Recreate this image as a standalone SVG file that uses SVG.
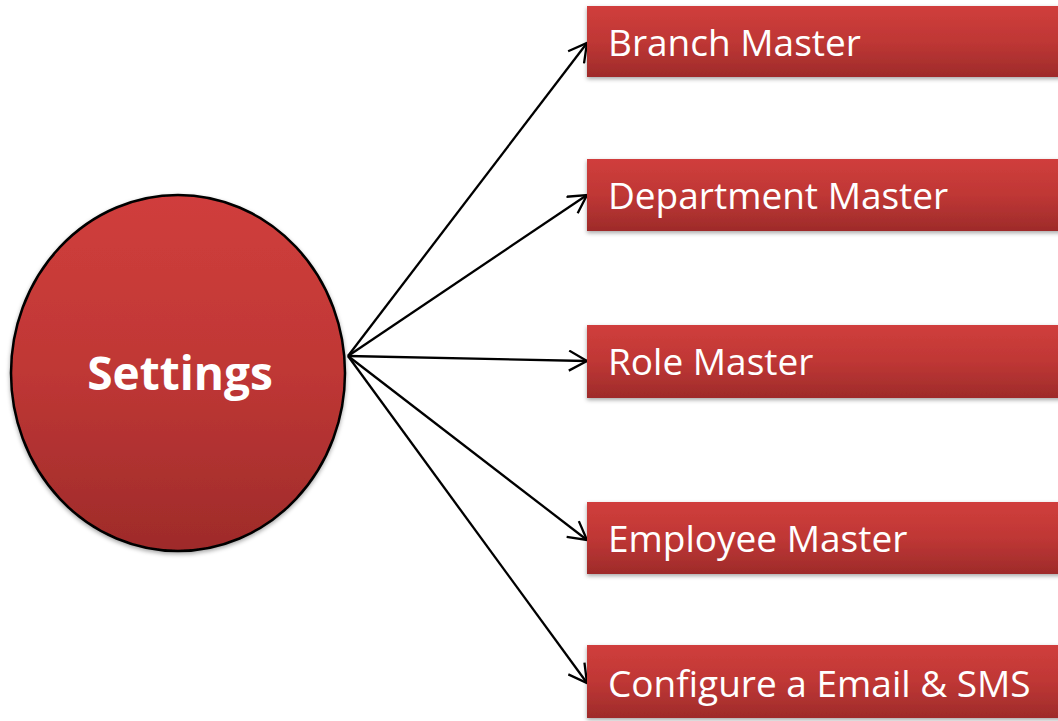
<svg xmlns="http://www.w3.org/2000/svg" width="1058" height="721" viewBox="0 0 1058 721">
<style>
.box{fill:url(#g);filter:url(#sh)}
.lbl{font-family:"Open Sans",sans-serif;font-size:37px;fill:#fff}
.edge{stroke:#000;stroke-width:2.3;fill:none;marker-end:url(#ah)}
</style>
<defs>
<linearGradient id="g" x1="0" y1="0" x2="0" y2="1">
<stop offset="0" stop-color="#d03e3c"/>
<stop offset="0.5" stop-color="#bf3735"/>
<stop offset="1" stop-color="#9e2b2a"/>
</linearGradient>
<filter id="sh" x="-5%" y="-10%" width="110%" height="130%">
<feDropShadow dx="0" dy="2" stdDeviation="2" flood-color="#000" flood-opacity="0.35"/>
</filter>
<marker id="ah" viewBox="0 0 20 22" refX="19" refY="11" markerWidth="20" markerHeight="22" markerUnits="userSpaceOnUse" orient="auto">
<path d="M1,1 L19,11 L1,21" fill="none" stroke="#000" stroke-width="2.3"/>
</marker>
</defs>
<g id="connectors">
<line class="edge" x1="348" y1="356" x2="587" y2="43"/>
<line class="edge" x1="348" y1="356" x2="587" y2="195"/>
<line class="edge" x1="348" y1="356" x2="587" y2="361"/>
<line class="edge" x1="348" y1="356" x2="587" y2="540"/>
<line class="edge" x1="348" y1="356" x2="587" y2="683"/>
</g>
<g id="settings">
<ellipse cx="178" cy="373" rx="167" ry="178" fill="url(#g)" stroke="#000" stroke-width="2.5" filter="url(#sh)"/>
<text x="180" y="390" text-anchor="middle" font-family="Open Sans, sans-serif" font-weight="bold" font-size="46" fill="#fff">Settings</text>
</g>
<g id="branch">
<rect class="box" x="587" y="6" width="480" height="71"/>
<text class="lbl" x="608" y="56">Branch Master</text>
</g>
<g id="department">
<rect class="box" x="587" y="159" width="480" height="72"/>
<text class="lbl" x="608" y="209">Department Master</text>
</g>
<g id="role">
<rect class="box" x="587" y="325" width="480" height="73"/>
<text class="lbl" x="608" y="375">Role Master</text>
</g>
<g id="employee">
<rect class="box" x="587" y="502" width="480" height="72"/>
<text class="lbl" x="608" y="552">Employee Master</text>
</g>
<g id="configure">
<rect class="box" x="587" y="645" width="480" height="73"/>
<text class="lbl" x="608" y="697">Configure a Email &amp; SMS</text>
</g>
</svg>
